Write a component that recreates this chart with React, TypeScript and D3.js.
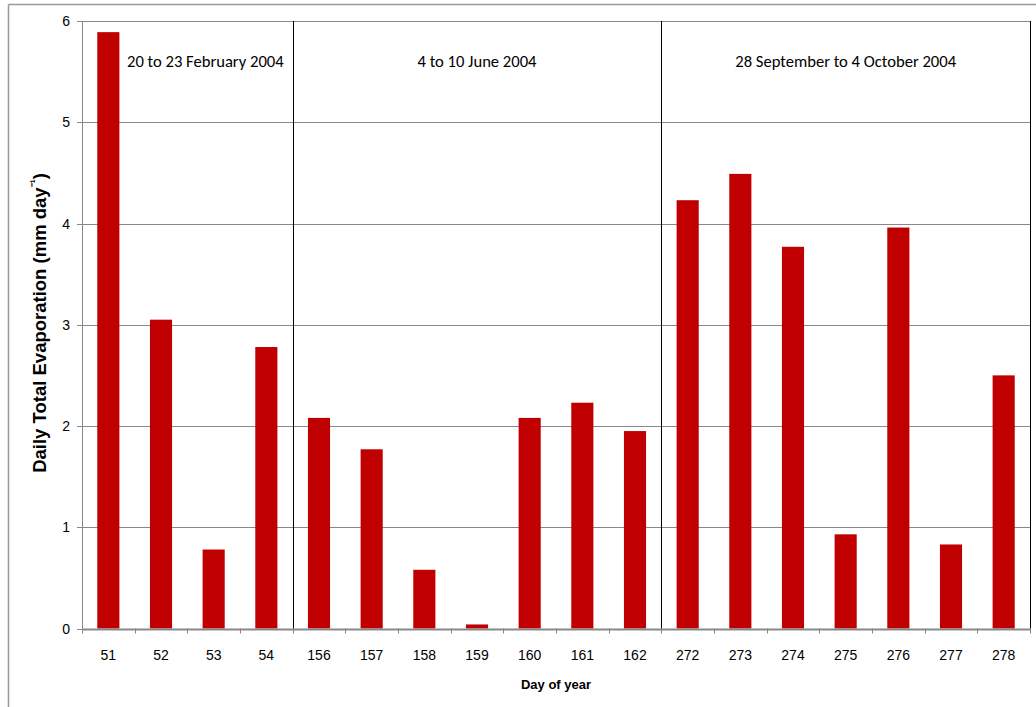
import React from "react";
import * as d3 from "d3";

const days = ["51", "52", "53", "54", "156", "157", "158", "159", "160", "161", "162", "272", "273", "274", "275", "276", "277", "278"];
const evaporation = [5.89, 3.05, 0.78, 2.78, 2.08, 1.77, 0.58, 0.04, 2.08, 2.23, 1.95, 4.23, 4.49, 3.77, 0.93, 3.96, 0.83, 2.5];
const yTicks = [0, 1, 2, 3, 4, 5, 6];
const periods = [
  { label: "20 to 23 February 2004", from: "51", to: "54", anchor: "start" },
  { label: "4 to 10 June 2004", from: "156", to: "162", anchor: "middle" },
  { label: "28 September to 4 October 2004", from: "272", to: "278", anchor: "middle" },
];

const W = 1036;
const H = 707;
const left = 82;
const right = 1030;
const top = 21;
const bottom = 628.5;

export default function App() {
  const x = d3.scaleBand<string>().domain(days).range([left, right]).paddingInner(0).paddingOuter(0);
  const y = d3.scaleLinear().domain([0, 6]).range([bottom, top]);
  const bw = x.bandwidth();
  const barW = bw * 0.42;
  const sans = "Liberation Sans, Arial, sans-serif";
  const cal = "Carlito, Lato, 'Open Sans', sans-serif";

  const boundaries = days.map((d) => x(d)!).concat([right]);

  return (
    <div style={{ position: "absolute", left: 0, top: 0 }}>
      <svg width={W} height={H} style={{ display: "block", background: "#fff" }}>
        {/* outer frame */}
        <line x1={8.5} x2={W} y1={4.5} y2={4.5} stroke="#999" strokeWidth={1.5} />
        <line x1={8.5} x2={8.5} y1={4.5} y2={H} stroke="#999" strokeWidth={1.5} />

        {/* gridlines */}
        {yTicks.map((t) => (
          <line key={"g" + t} x1={left} x2={right} y1={Math.round(y(t)) + 0.5} y2={Math.round(y(t)) + 0.5} stroke="#888" strokeWidth={1} />
        ))}

        {/* bars */}
        {days.map((d, i) => (
          <rect
            key={d}
            x={x(d)! + (bw - barW) / 2}
            y={y(evaporation[i])}
            width={barW}
            height={y(0) - y(evaporation[i])}
            fill="#C00000"
          />
        ))}

        {/* period separators */}
        {periods.slice(1).map((p) => (
          <line key={"s" + p.from} x1={Math.round(x(p.from)!) + 0.5} x2={Math.round(x(p.from)!) + 0.5} y1={top} y2={bottom + 1} stroke="#000" strokeWidth={1} />
        ))}
        <line x1={right + 0.5} x2={right + 0.5} y1={top} y2={bottom + 1} stroke="#000" strokeWidth={1} />

        {/* y axis */}
        <line x1={left + 0.5} x2={left + 0.5} y1={top} y2={bottom + 1} stroke="#888" strokeWidth={1} />
        {yTicks.map((t) => (
          <g key={"y" + t}>
            <line x1={left - 5} x2={left} y1={Math.round(y(t)) + 0.5} y2={Math.round(y(t)) + 0.5} stroke="#888" />
            <text x={70} y={y(t) + 5} textAnchor="end" fontFamily={sans} fontSize={14} fill="#000">
              {t}
            </text>
          </g>
        ))}

        {/* x axis */}
        <line x1={left} x2={right + 1} y1={Math.round(bottom) + 0.5} y2={Math.round(bottom) + 0.5} stroke="#888" strokeWidth={2} />
        {boundaries.map((bx, i) => (
          <line key={"t" + i} x1={Math.round(bx) + 0.5} x2={Math.round(bx) + 0.5} y1={bottom} y2={bottom + 5} stroke="#888" />
        ))}
        {days.map((d) => (
          <text key={"xl" + d} x={x(d)! + bw / 2} y={660} textAnchor="middle" fontFamily={sans} fontSize={14} fill="#000">
            {d}
          </text>
        ))}

        {/* period labels */}
        {periods.map((p) => {
          const x0 = x(p.from)!;
          const x1 = x(p.to)! + bw;
          const tx = p.anchor === "start" ? x0 + 45 : (x0 + x1) / 2;
          return (
            <text key={p.label} x={tx} y={67} textAnchor={p.anchor as any} fontFamily={cal} fontSize={16.6} fill="#000">
              {p.label}
            </text>
          );
        })}

        {/* axis titles */}
        <text x={556} y={689} textAnchor="middle" fontFamily={sans} fontSize={13} fontWeight="bold" fill="#000">
          Day of year
        </text>
        <text
          transform={`translate(46, 323) rotate(-90)`}
          textAnchor="middle"
          fontFamily={sans}
          fontSize={18.5}
          fontWeight="bold"
          fill="#000"
        >
          Daily Total Evaporation (mm day
          <tspan dy={-7} fontSize={12}>⁻¹</tspan>
          <tspan dy={7}>)</tspan>
        </text>
      </svg>
    </div>
  );
}
